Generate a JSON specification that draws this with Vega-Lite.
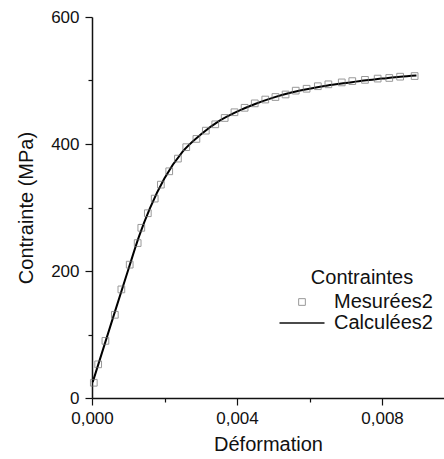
{
  "$schema": "https://vega.github.io/schema/vega-lite/v6.json",
  "width": 352,
  "height": 381,
  "autosize": {"type": "none"},
  "padding": {"left": 92, "top": 17, "right": 0, "bottom": 61},
  "config": {
    "locale": {"number": {"decimal": ",", "thousands": " ", "grouping": [3], "currency": ["", " €"]}},
    "font": "Liberation Sans",
    "view": {"stroke": null},
    "axis": {
      "domainColor": "#111111",
      "domainWidth": 1.5,
      "tickColor": "#111111",
      "tickWidth": 1.2,
      "labelColor": "#111111",
      "titleColor": "#111111",
      "labelFont": "Liberation Sans",
      "titleFont": "Liberation Sans",
      "labelFontSize": 17,
      "titleFontSize": 20,
      "titleFontWeight": "normal",
      "grid": false
    },
    "legend": {
      "orient": "none",
      "legendX": 200,
      "legendY": 251,
      "padding": 0,
      "titleFont": "Liberation Sans",
      "titleFontSize": 20,
      "titleFontWeight": "normal",
      "titleColor": "#111111",
      "titleAnchor": "middle",
      "titlePadding": 4,
      "labelFont": "Liberation Sans",
      "labelFontSize": 20,
      "labelColor": "#111111",
      "labelOffset": 22,
      "rowPadding": 1
    }
  },
  "datasets": {
    "mesures": [
      {"def": 0.00005, "contrainte": 24, "serie": "Mesurées2"},
      {"def": 0.00017, "contrainte": 53, "serie": "Mesurées2"},
      {"def": 0.00037, "contrainte": 90, "serie": "Mesurées2"},
      {"def": 0.00063, "contrainte": 131, "serie": "Mesurées2"},
      {"def": 0.00081, "contrainte": 171, "serie": "Mesurées2"},
      {"def": 0.00104, "contrainte": 210, "serie": "Mesurées2"},
      {"def": 0.00126, "contrainte": 244, "serie": "Mesurées2"},
      {"def": 0.00136, "contrainte": 268, "serie": "Mesurées2"},
      {"def": 0.00154, "contrainte": 291, "serie": "Mesurées2"},
      {"def": 0.00173, "contrainte": 314, "serie": "Mesurées2"},
      {"def": 0.0019, "contrainte": 336, "serie": "Mesurées2"},
      {"def": 0.00213, "contrainte": 357, "serie": "Mesurées2"},
      {"def": 0.00237, "contrainte": 377, "serie": "Mesurées2"},
      {"def": 0.0026, "contrainte": 395, "serie": "Mesurées2"},
      {"def": 0.00288, "contrainte": 408, "serie": "Mesurées2"},
      {"def": 0.00314, "contrainte": 421, "serie": "Mesurées2"},
      {"def": 0.0034, "contrainte": 431, "serie": "Mesurées2"},
      {"def": 0.00366, "contrainte": 441, "serie": "Mesurées2"},
      {"def": 0.00393, "contrainte": 450, "serie": "Mesurées2"},
      {"def": 0.00421, "contrainte": 457, "serie": "Mesurées2"},
      {"def": 0.00449, "contrainte": 464, "serie": "Mesurées2"},
      {"def": 0.00478, "contrainte": 470, "serie": "Mesurées2"},
      {"def": 0.00506, "contrainte": 474, "serie": "Mesurées2"},
      {"def": 0.00534, "contrainte": 478, "serie": "Mesurées2"},
      {"def": 0.00562, "contrainte": 484, "serie": "Mesurées2"},
      {"def": 0.00592, "contrainte": 487, "serie": "Mesurées2"},
      {"def": 0.00623, "contrainte": 491, "serie": "Mesurées2"},
      {"def": 0.00652, "contrainte": 494, "serie": "Mesurées2"},
      {"def": 0.00689, "contrainte": 497, "serie": "Mesurées2"},
      {"def": 0.00718, "contrainte": 499, "serie": "Mesurées2"},
      {"def": 0.00753, "contrainte": 501, "serie": "Mesurées2"},
      {"def": 0.00788, "contrainte": 503, "serie": "Mesurées2"},
      {"def": 0.0082, "contrainte": 504, "serie": "Mesurées2"},
      {"def": 0.0085, "contrainte": 506, "serie": "Mesurées2"},
      {"def": 0.0089, "contrainte": 507, "serie": "Mesurées2"}
    ],
    "calcul": [
      {"def": 0.00002, "contrainte": 25},
      {"def": 0.0005, "contrainte": 112},
      {"def": 0.001, "contrainte": 202},
      {"def": 0.0013, "contrainte": 255},
      {"def": 0.0016, "contrainte": 299},
      {"def": 0.002, "contrainte": 346},
      {"def": 0.0025, "contrainte": 388},
      {"def": 0.003, "contrainte": 415},
      {"def": 0.0035, "contrainte": 436},
      {"def": 0.004, "contrainte": 451},
      {"def": 0.0045, "contrainte": 463},
      {"def": 0.005, "contrainte": 473},
      {"def": 0.0055, "contrainte": 481},
      {"def": 0.006, "contrainte": 487},
      {"def": 0.0065, "contrainte": 492},
      {"def": 0.007, "contrainte": 496},
      {"def": 0.0075, "contrainte": 500},
      {"def": 0.008, "contrainte": 503},
      {"def": 0.0085, "contrainte": 506},
      {"def": 0.00895, "contrainte": 508}
    ]
  },
  "layer": [
    {
      "data": {"name": "calcul"},
      "mark": {"type": "line", "color": "#000000", "strokeWidth": 2, "interpolate": "monotone"},
      "encoding": {
        "x": {
          "field": "def", "type": "quantitative",
          "scale": {"domain": [0, 0.00971], "nice": false, "zero": false},
          "axis": {
            "title": "Déformation",
            "values": [0, 0.001, 0.002, 0.003, 0.004, 0.005, 0.006, 0.007, 0.008, 0.009],
            "format": ".3f",
            "labelExpr": "round(datum.value * 1000) % 4 === 0 ? datum.label : ''",
            "tickSize": {"condition": {"test": "round(datum.value * 1000) % 4 === 0", "value": 7}, "value": 4},
            "labelPadding": 5,
            "titlePadding": 8,
            "labelFlush": false,
            "labelOverlap": false
          }
        },
        "y": {
          "field": "contrainte", "type": "quantitative",
          "scale": {"domain": [0, 600], "nice": false},
          "axis": {
            "title": "Contrainte (MPa)",
            "values": [0, 100, 200, 300, 400, 500, 600],
            "format": "d",
            "labelExpr": "datum.value % 200 === 0 ? datum.label : ''",
            "tickSize": {"condition": {"test": "datum.value % 200 === 0", "value": 7}, "value": 4},
            "labelPadding": 6,
            "titlePadding": 14,
            "labelFlush": false,
            "labelOverlap": false
          }
        }
      }
    },
    {
      "data": {"name": "mesures"},
      "mark": {"type": "point", "filled": false, "strokeWidth": 1},
      "encoding": {
        "x": {"field": "def", "type": "quantitative"},
        "y": {"field": "contrainte", "type": "quantitative"},
        "shape": {
          "field": "serie", "type": "nominal",
          "scale": {"domain": ["Mesurées2", "Calculées2"], "range": ["square", "M-3,0H3"]},
          "legend": {"title": "Contraintes"}
        },
        "size": {
          "field": "serie", "type": "nominal",
          "scale": {"domain": ["Mesurées2", "Calculées2"], "range": [45, 225]},
          "legend": {"title": "Contraintes"}
        },
        "color": {
          "field": "serie", "type": "nominal",
          "scale": {"domain": ["Mesurées2", "Calculées2"], "range": ["#6e6e6e", "#000000"]},
          "legend": {"title": "Contraintes"}
        },
        "strokeWidth": {
          "field": "serie", "type": "nominal",
          "scale": {"domain": ["Mesurées2", "Calculées2"], "range": [1, 2]},
          "legend": {"title": "Contraintes"}
        }
      }
    },
    {
      "mark": {"type": "rule", "color": "#111111", "strokeWidth": 1.5},
      "encoding": {"y": {"datum": 600}}
    }
  ]
}
